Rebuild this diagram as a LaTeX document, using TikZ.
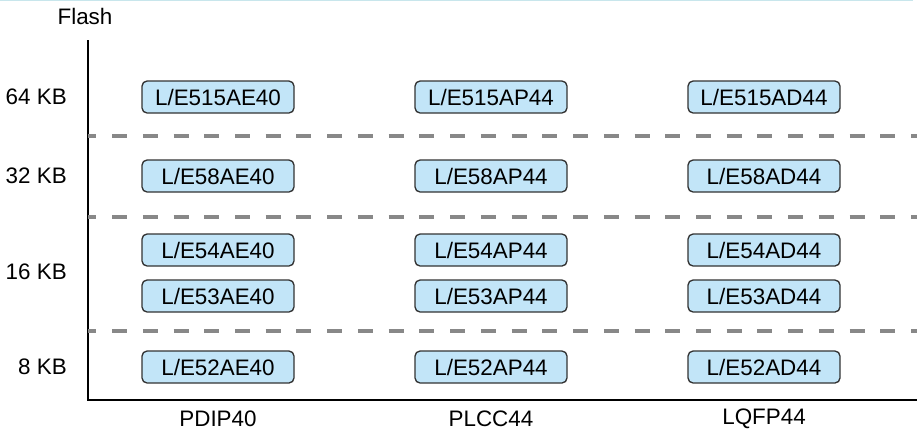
\documentclass[tikz,border=0pt]{standalone}
\usepackage{fontspec}
\setmainfont{Liberation Sans}
\definecolor{chipfill}{HTML}{C2E5F8}
\definecolor{chipedge}{HTML}{333333}
\definecolor{sepgray}{HTML}{888888}
\definecolor{topline}{HTML}{C8E6EC}
\begin{document}
\begin{tikzpicture}[x=0.75pt,y=-0.75pt,
  chip/.style={draw=chipedge,line width=1pt,fill=chipfill,rounded corners=3.8pt,
    minimum width=114pt,minimum height=24pt,inner sep=0pt,font=\fontsize{16.8}{19}\selectfont},
  lbl/.style={font=\fontsize{16.8}{19}\selectfont,inner sep=0pt},
  sep/.style={draw=sepgray,line width=3pt,dash pattern=on 11.25pt off 11.8pt,dash phase=5pt},
  axis/.style={draw=black,line width=1.6pt}]
\useasboundingbox (0,0) rectangle (917,430);
% thin rule along the top edge
\draw[topline,line width=1pt] (0,0.7) -- (913,0.7);

% axes
\coordinate (origin) at (88,400);
\coordinate (ytop) at (88,40);
\coordinate (xend) at (917,400);
\draw[axis] (ytop) -- (origin) -- (xend);
\node[lbl] (flash) at (85,16) {Flash};

% size separators
\foreach \y/\n in {136/s1,217/s2,331/s3}{
  \coordinate (\n a) at (88,\y);
  \coordinate (\n b) at (917,\y);
  \draw[sep] (\n a) -- (\n b);
}

% flash size labels
\node[lbl,anchor=east] (k64) at (67,97) {64 KB};
\node[lbl,anchor=east] (k32) at (67,176) {32 KB};
\node[lbl,anchor=east] (k16) at (67,272) {16 KB};
\node[lbl,anchor=east] (k8)  at (67,367) {8 KB};

% package labels
\node[lbl] (pdip) at (218,419) {PDIP40};
\node[lbl] (plcc) at (491,419) {PLCC44};
\node[lbl] (lqfp) at (764,419) {LQFP44};

% parts: PDIP40
\node[chip] (ae515) at (218,97)  {L/E515AE40};
\node[chip] (ae58)  at (218,176) {L/E58AE40};
\node[chip] (ae54)  at (218,250) {L/E54AE40};
\node[chip] (ae53)  at (218,296) {L/E53AE40};
\node[chip] (ae52)  at (218,367) {L/E52AE40};
% parts: PLCC44
\node[chip] (ap515) at (491,97)  {L/E515AP44};
\node[chip] (ap58)  at (491,176) {L/E58AP44};
\node[chip] (ap54)  at (491,250) {L/E54AP44};
\node[chip] (ap53)  at (491,296) {L/E53AP44};
\node[chip] (ap52)  at (491,367) {L/E52AP44};
% parts: LQFP44
\node[chip] (ad515) at (764,97)  {L/E515AD44};
\node[chip] (ad58)  at (764,176) {L/E58AD44};
\node[chip] (ad54)  at (764,250) {L/E54AD44};
\node[chip] (ad53)  at (764,296) {L/E53AD44};
\node[chip] (ad52)  at (764,367) {L/E52AD44};
\end{tikzpicture}
\end{document}
